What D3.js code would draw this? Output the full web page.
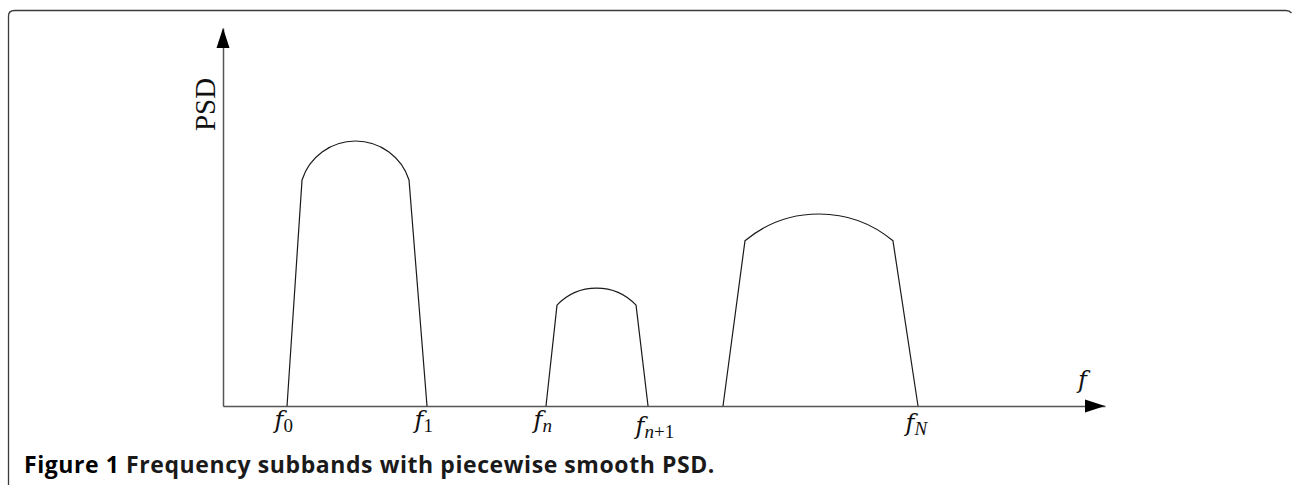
<!DOCTYPE html>
<html>
<head>
<meta charset="utf-8">
<script src="https://cdn.jsdelivr.net/npm/d3@7"></script>
<style>
  html, body { margin: 0; padding: 0; background: #fff; }
  svg { display: block; }
</style>
</head>
<body>
<svg id="chart" width="1292" height="485"></svg>
<script>
// Frequency axis positions (arbitrary units) of the subband edges
const bandNames = ["band0", "bandn", "bandN"];
const baseLeft     = [0.726, 3.662, 5.669];
const shoulderLeft = [0.896, 3.787, 5.918];
const peakFreq     = [1.497, 4.252, 6.769];
const shoulderRight= [2.109, 4.683, 7.596];
const baseRight    = [2.313, 4.819, 7.880];
// PSD levels of each subband
const shoulderLevel = [5.98, 2.67, 4.37];
const peakLevel     = [7.01, 3.12, 5.08];

// Tick labels on the frequency axis
const tickFreq  = [0.726, 2.313, 3.662, 4.819, 7.880];
const tickSub   = ["0", "1", "n", "n+1", "N"];

const svg = d3.select("#chart");
const serif = "'Liberation Serif', 'DejaVu Serif', serif";
const mathSerif = "'DejaVu Serif', 'Liberation Serif', serif";

const x = d3.scaleLinear().domain([0, 10]).range([223, 1105]);
const y = d3.scaleLinear().domain([0, 10]).range([406, 28]);

// Panel frame (open at the bottom)
svg.append("path")
  .attr("d", "M8.5,485 L8.5,16 Q8.5,10.5 14.5,10.5 L1286,10.5 Q1289.5,10.5 1291.5,13")
  .attr("fill", "none")
  .attr("stroke", "#3a3a3a")
  .attr("stroke-width", 1.3);

const axisColor = "#555";
const arrowLen = 20, arrowHalf = 6.5;

// Vertical (PSD) axis
const yAxis = svg.append("g")
  .attr("transform", `translate(${x(0)},0)`)
  .call(d3.axisLeft(y).tickValues([]).tickSizeOuter(0));
yAxis.select(".domain")
  .attr("stroke", axisColor)
  .attr("stroke-width", 1.5);
svg.append("path")
  .attr("d", `M${x(0)},${y(10)} L${x(0) - arrowHalf},${y(10) + arrowLen} L${x(0) + arrowHalf},${y(10) + arrowLen} Z`)
  .attr("fill", "#000");

// Horizontal (frequency) axis with subscripted labels
const xAxis = svg.append("g")
  .attr("transform", `translate(0,${y(0)})`)
  .call(d3.axisBottom(x).tickValues(tickFreq).tickSize(0).tickSizeOuter(0).tickFormat(""));
xAxis.select(".domain")
  .attr("stroke", axisColor)
  .attr("stroke-width", 1.5);
svg.append("path")
  .attr("d", `M${x(10)},${y(0)} L${x(10) - arrowLen},${y(0) - arrowHalf} L${x(10) - arrowLen},${y(0) + arrowHalf} Z`)
  .attr("fill", "#000");

xAxis.selectAll(".tick text").each(function(d, i) {
  const sub = tickSub[i];
  const t = d3.select(this)
    .attr("text-anchor", "start")
    .attr("x", -13)
    .attr("y", sub === "n+1" ? 28 : sub === "N" ? 25 : 22)
    .attr("dy", null)
    .attr("fill", "#111")
    .style("font-family", mathSerif)
    .style("font-size", "24px");
  t.append("tspan").style("font-style", "italic").text("f");
  const subSpan = t.append("tspan").attr("dy", 4).attr("dx", 0)
    .style("font-family", serif).style("font-size", "19px");
  if (/^[0-9]+$/.test(sub)) {
    subSpan.text(sub);
  } else if (sub.includes("+")) {
    const parts = sub.split("+");
    subSpan.append("tspan").style("font-style", "italic").text(parts[0]);
    subSpan.append("tspan").text("+" + parts[1]);
  } else {
    subSpan.style("font-style", "italic").text(sub);
  }
});

// Axis titles
svg.append("text")
  .attr("x", 1078)
  .attr("y", 388)
  .attr("fill", "#111")
  .style("font-family", mathSerif)
  .style("font-style", "italic")
  .style("font-size", "24px")
  .text("f");

svg.append("text")
  .attr("transform", `translate(215,104.5) rotate(-90)`)
  .attr("text-anchor", "middle")
  .attr("fill", "#111")
  .style("font-family", serif)
  .style("font-size", "29px")
  .text("PSD");

// Subband PSD shapes: straight flanks and a circular cap through the peak
const bands = bandNames.map((name, i) => ({
  name,
  bl: baseLeft[i], sl: shoulderLeft[i], pk: peakFreq[i],
  sr: shoulderRight[i], br: baseRight[i],
  sLev: shoulderLevel[i], pLev: peakLevel[i]
}));

svg.append("g")
  .selectAll("path")
  .data(bands)
  .join("path")
  .attr("fill", "none")
  .attr("stroke", "#1a1a1a")
  .attr("stroke-width", 1.2)
  .attr("d", b => {
    const x0 = x(b.bl), x1 = x(b.sl), x2 = x(b.sr), x3 = x(b.br);
    const yb = y(0), ys = y(b.sLev), yp = y(b.pLev);
    const w = (x2 - x1) / 2, h = ys - yp;
    const r = (w * w + h * h) / (2 * h);
    const p = d3.path();
    p.moveTo(x0, yb);
    p.lineTo(x1, ys);
    return p.toString() + ` A${r},${r} 0 0 1 ${x2},${ys} L${x3},${yb}`;
  });

// Caption, fitted to the panel's caption width
const cap = svg.append("text")
  .attr("x", 24)
  .attr("y", 473)
  .attr("fill", "#1a1a1a")
  .style("font-family", "'Open Sans', sans-serif")
  .style("font-weight", 700)
  .style("font-size", "23px");
cap.append("tspan").attr("fill", "#000").text("Figure 1");
cap.append("tspan").text(" Frequency subbands with piecewise smooth PSD.");
const capText = "Figure 1 Frequency subbands with piecewise smooth PSD.";
const natural = cap.node().getComputedTextLength();
const targetWidth = 691;
cap.style("letter-spacing", ((targetWidth - natural) / capText.length) + "px");
</script>
</body>
</html>
